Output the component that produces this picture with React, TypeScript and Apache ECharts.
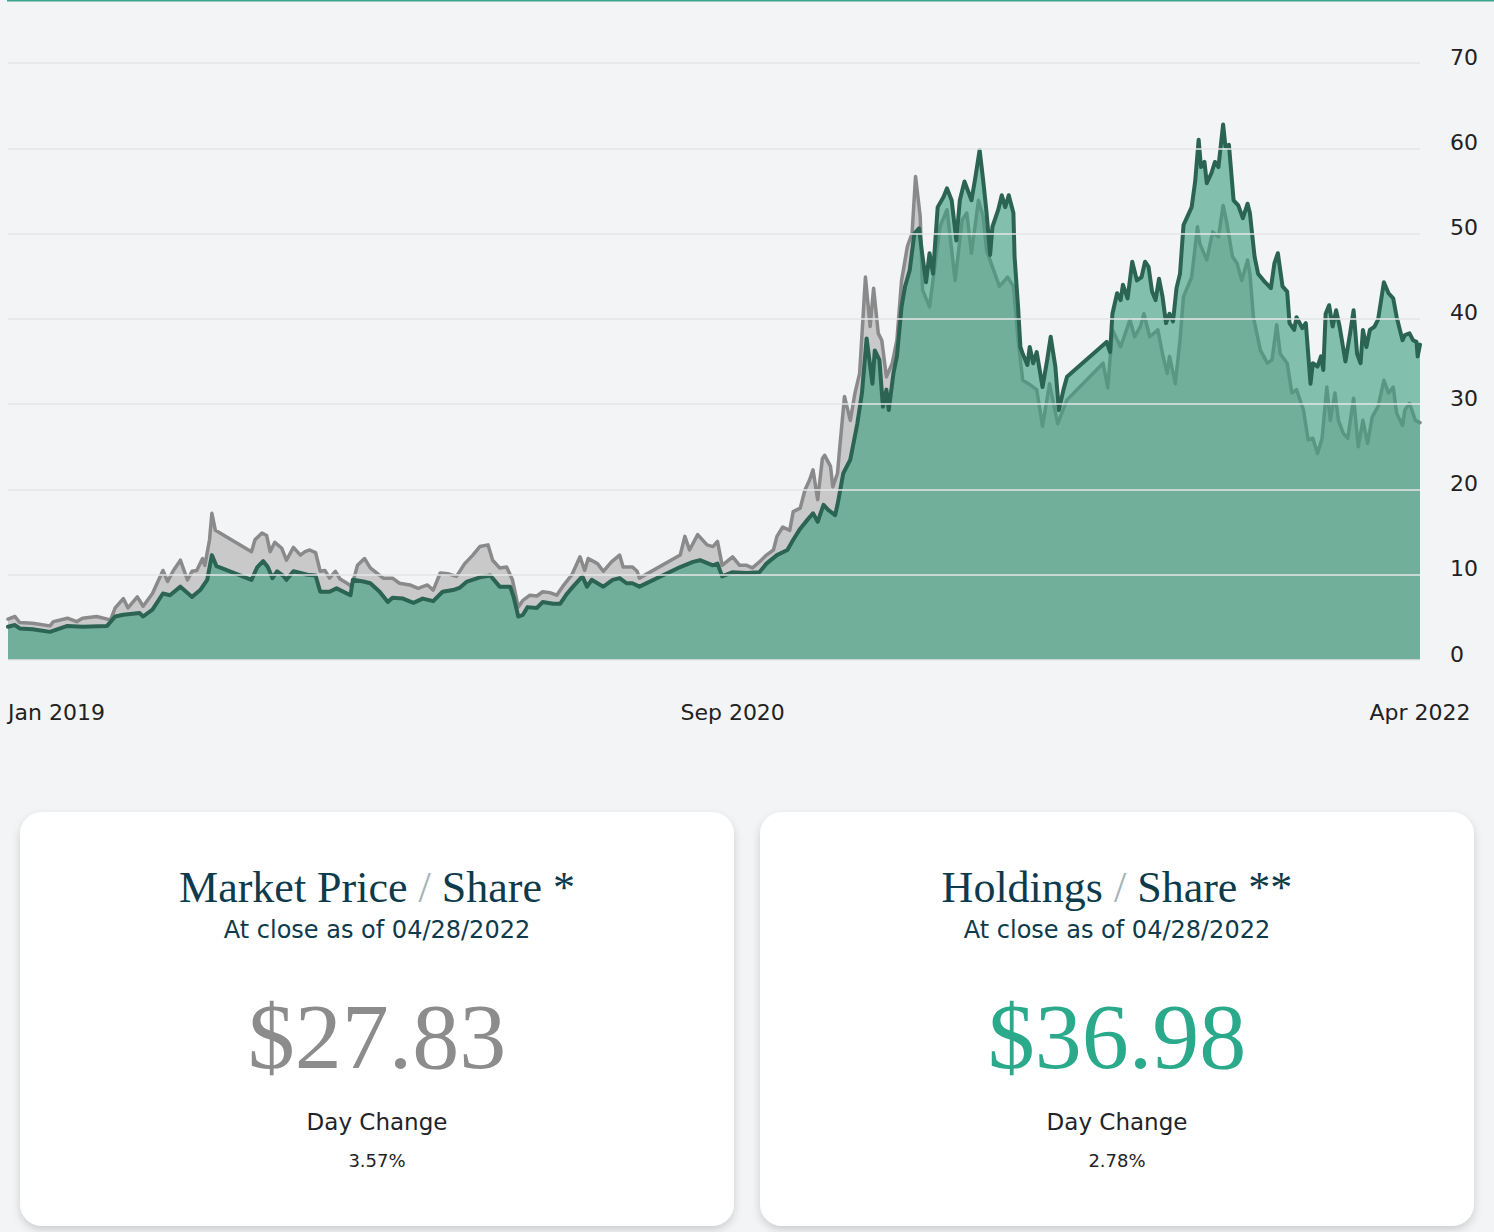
import React, { useEffect, useRef } from 'react';
import * as echarts from 'echarts';

// Days since 2019-01-02 and values (USD per share)
const priceDays = [0, 6, 10, 21, 36, 39, 51, 59, 64, 76, 88, 92, 99, 103, 111, 116, 124, 133, 137, 142, 148, 154, 158, 162, 167, 169, 173, 175, 178, 209, 212, 218, 222, 225, 229, 235, 239, 245, 251, 255, 259, 264, 268, 272, 276, 281, 285, 291, 295, 300, 306, 311, 322, 330, 336, 345, 352, 360, 365, 371, 378, 385, 392, 399, 405, 412, 416, 422, 428, 433, 438, 442, 448, 454, 459, 465, 471, 476, 484, 491, 495, 498, 506, 511, 518, 525, 528, 536, 540, 542, 577, 581, 585, 592, 600, 605, 609, 613, 622, 628, 634, 639, 645, 651, 657, 660, 665, 671, 674, 680, 684, 688, 691, 695, 699, 701, 706, 708, 712, 714, 718, 723, 727, 731, 736, 740, 743, 747, 750, 754, 759, 763, 767, 772, 776, 779, 783, 785, 791, 800, 806, 813, 819, 823, 827, 833, 837, 840, 845, 851, 858, 863, 867, 871, 876, 883, 888, 894, 901, 909, 940, 944, 948, 955, 963, 967, 972, 975, 980, 987, 991, 995, 997, 1002, 1006, 1009, 1016, 1021, 1023, 1029, 1034, 1039, 1043, 1046, 1051, 1055, 1059, 1064, 1066, 1069, 1075, 1081, 1085, 1089, 1092, 1098, 1102, 1106, 1112, 1116, 1120, 1124, 1128, 1132, 1135, 1139, 1142, 1146, 1150, 1155, 1159, 1163, 1167, 1171, 1176, 1181, 1185, 1189, 1192, 1197, 1199, 1203, 1208, 1212];
const priceValues = [4.8, 5.1, 4.4, 4.3, 4.0, 4.5, 4.9, 4.5, 4.9, 5.1, 4.7, 6.1, 7.2, 6.1, 7.4, 6.3, 7.8, 10.5, 9.2, 10.5, 11.7, 9.4, 10.4, 10.5, 11.9, 11.1, 14.1, 17.2, 15.2, 12.7, 14.1, 14.9, 14.6, 12.7, 13.8, 13.1, 11.7, 13.2, 12.3, 12.7, 12.9, 12.6, 10.4, 10.5, 9.6, 10.4, 9.5, 9.0, 8.6, 11.1, 11.9, 10.8, 9.6, 9.6, 9.0, 8.8, 8.4, 8.8, 8.2, 10.2, 10.1, 9.8, 11.3, 12.3, 13.3, 13.5, 11.7, 10.8, 10.9, 9.4, 6.2, 7.0, 7.6, 7.5, 8.0, 7.9, 7.6, 8.6, 10.0, 12.1, 10.5, 11.9, 11.3, 10.4, 11.5, 12.3, 10.9, 10.9, 10.4, 9.6, 12.3, 14.5, 12.9, 14.7, 13.5, 13.3, 13.9, 11.1, 12.1, 11.1, 11.1, 10.8, 11.5, 12.3, 12.9, 14.5, 15.6, 15.2, 17.4, 17.8, 19.9, 21.1, 22.3, 18.8, 23.6, 24.0, 22.7, 20.3, 21.9, 25.0, 30.9, 28.1, 31.3, 33.6, 44.9, 39.1, 43.6, 38.3, 37.5, 33.2, 34.8, 37.5, 44.5, 48.5, 50.0, 56.7, 52.0, 43.4, 41.4, 50.8, 52.8, 44.5, 51.6, 52.4, 47.7, 53.9, 52.0, 48.0, 46.1, 43.8, 44.9, 43.8, 37.5, 32.8, 32.4, 31.7, 27.4, 32.4, 27.7, 30.5, 34.8, 31.9, 38.7, 36.7, 39.9, 37.9, 39.1, 40.6, 37.9, 38.7, 35.9, 33.6, 35.6, 32.4, 37.5, 42.6, 44.9, 50.8, 48.8, 46.9, 50.2, 49.6, 53.3, 51.4, 47.3, 46.5, 44.5, 46.9, 45.3, 40.2, 36.3, 34.8, 35.2, 39.3, 35.9, 34.8, 31.3, 31.7, 29.3, 25.8, 26.0, 24.2, 26.0, 32.0, 28.1, 31.3, 28.1, 26.6, 26.0, 30.7, 25.0, 28.1, 25.4, 28.5, 29.7, 32.8, 31.3, 32.0, 28.9, 27.5, 29.3, 30.1, 28.1, 27.83];

const navDays = [0, 6, 10, 21, 36, 51, 64, 85, 92, 99, 113, 116, 124, 133, 139, 148, 158, 165, 171, 175, 179, 209, 214, 219, 223, 227, 231, 236, 239, 245, 257, 264, 268, 276, 282, 294, 296, 305, 311, 319, 326, 330, 339, 348, 356, 365, 373, 382, 388, 394, 405, 414, 422, 431, 434, 438, 442, 446, 454, 459, 468, 474, 480, 485, 493, 497, 501, 511, 519, 525, 531, 536, 542, 577, 588, 594, 605, 609, 613, 622, 634, 645, 651, 660, 669, 674, 680, 686, 691, 695, 700, 704, 710, 712, 717, 723, 729, 733, 737, 742, 744, 748, 751, 754, 756, 760, 763, 767, 770, 774, 778, 782, 785, 788, 791, 794, 798, 803, 806, 810, 814, 817, 821, 827, 830, 834, 837, 840, 843, 845, 850, 853, 856, 859, 863, 864, 867, 869, 871, 875, 877, 880, 883, 888, 892, 895, 899, 902, 906, 909, 943, 946, 948, 952, 955, 957, 961, 965, 969, 973, 976, 979, 982, 985, 988, 991, 994, 997, 1000, 1003, 1006, 1009, 1013, 1016, 1019, 1022, 1024, 1027, 1029, 1033, 1036, 1039, 1043, 1045, 1048, 1052, 1056, 1060, 1064, 1066, 1070, 1073, 1079, 1084, 1087, 1090, 1094, 1098, 1100, 1104, 1106, 1111, 1114, 1118, 1120, 1124, 1127, 1129, 1131, 1134, 1137, 1140, 1143, 1148, 1152, 1155, 1158, 1161, 1163, 1166, 1169, 1173, 1176, 1181, 1185, 1189, 1192, 1197, 1199, 1203, 1206, 1209, 1210, 1212];
const navValues = [3.9, 4.1, 3.7, 3.6, 3.3, 4.0, 3.9, 4.0, 5.1, 5.3, 5.5, 5.1, 5.9, 7.8, 7.6, 8.6, 7.4, 8.2, 9.4, 12.3, 11.0, 9.4, 10.9, 11.6, 10.9, 9.6, 10.4, 9.9, 9.4, 10.4, 10.0, 9.9, 8.0, 8.0, 8.4, 7.6, 9.4, 9.2, 9.0, 8.0, 6.8, 7.3, 7.2, 6.7, 7.2, 6.9, 8.0, 8.2, 8.5, 9.2, 9.7, 9.9, 8.6, 8.6, 7.4, 5.1, 5.3, 6.2, 6.1, 6.8, 6.6, 6.6, 7.8, 8.6, 9.8, 8.6, 9.4, 8.6, 9.4, 9.6, 9.0, 9.0, 8.6, 10.9, 11.5, 11.7, 11.1, 11.3, 9.8, 10.3, 10.2, 10.3, 11.3, 12.3, 12.9, 14.1, 15.4, 16.4, 17.2, 16.2, 18.2, 17.6, 17.0, 18.2, 21.9, 23.5, 27.7, 31.3, 37.7, 32.4, 36.3, 35.2, 29.7, 31.7, 29.3, 33.6, 35.6, 41.4, 43.8, 45.7, 50.0, 50.6, 47.3, 44.3, 47.7, 45.3, 53.1, 54.3, 55.3, 53.9, 49.2, 53.9, 56.1, 53.9, 56.3, 59.8, 56.3, 52.4, 47.5, 50.8, 52.8, 54.5, 53.1, 54.5, 52.4, 47.3, 41.4, 36.7, 35.9, 34.6, 36.7, 34.8, 36.1, 32.0, 35.2, 37.9, 34.4, 29.3, 31.7, 33.2, 37.3, 36.1, 40.6, 43.0, 42.2, 44.0, 42.4, 46.7, 44.5, 44.9, 46.7, 46.1, 43.2, 42.2, 44.7, 42.6, 39.5, 40.6, 39.7, 43.6, 45.3, 51.0, 52.2, 53.1, 56.1, 61.0, 57.8, 58.4, 55.9, 57.1, 58.4, 57.8, 62.8, 60.2, 60.4, 53.9, 53.3, 51.8, 53.5, 52.4, 47.3, 45.3, 44.3, 43.6, 46.5, 47.7, 43.8, 43.2, 39.5, 38.7, 40.2, 38.9, 39.5, 32.4, 34.8, 34.4, 35.6, 34.0, 40.6, 41.6, 39.1, 41.0, 39.1, 35.0, 38.3, 41.0, 35.9, 34.8, 38.7, 36.7, 38.7, 39.1, 39.9, 44.3, 43.0, 42.4, 40.2, 37.5, 38.1, 38.3, 37.5, 37.3, 35.6, 36.98];

const xTickDays = [0, 622, 1212];
const xTickLabels = ['Jan 2019', 'Sep 2020', 'Apr 2022'];
const yMin = 0;
const yMax = 70;
const yStep = 10;

const cardTitles = ['Market Price', 'Holdings'];
const cardTitleTails = ['Share *', 'Share **'];
const cardSubtitles = ['At close as of 04/28/2022', 'At close as of 04/28/2022'];
const cardValues = ['$27.83', '$36.98'];
const cardChangeLabel = 'Day Change';
const cardChanges = ['3.57%', '2.78%'];

const SANS = 'DejaVu Sans';
const SERIF = 'Liberation Serif';

function buildCards(): any[] {
  const els: any[] = [];
  const lefts = [20, 760];
  const valueColors = ['#8c8c8c', '#2aa98b'];
  lefts.forEach((left, i) => {
    const cx = left + 357;
    els.push({
      type: 'rect',
      shape: { x: left, y: 812, width: 714, height: 414, r: 22 },
      style: { fill: '#ffffff', shadowBlur: 8, shadowOffsetY: 4, shadowColor: 'rgba(0,0,0,0.16)' },
      z: 10,
    });
    els.push({
      type: 'text',
      z: 11,
      style: {
        x: cx,
        y: 887,
        align: 'center',
        verticalAlign: 'middle',
        text: `{t|${cardTitles[i]}\u00a0}{s|/}{t|\u00a0${cardTitleTails[i]}}`,
        rich: {
          t: { fontFamily: SERIF, fontSize: 44, fill: '#0e3b4b', color: '#0e3b4b' },
          s: { fontFamily: SERIF, fontSize: 44, fill: '#a3b3b8', color: '#a3b3b8' },
        },
      },
    });
    els.push({
      type: 'text',
      z: 11,
      style: {
        x: cx, y: 930, align: 'center', verticalAlign: 'middle',
        text: cardSubtitles[i], fontFamily: SANS, fontSize: 24, fill: '#0e3b4b',
      },
    });
    els.push({
      type: 'text',
      z: 11,
      style: {
        x: cx, y: 1036, align: 'center', verticalAlign: 'middle',
        text: cardValues[i], fontFamily: SERIF, fontSize: 94, fill: valueColors[i],
      },
    });
    els.push({
      type: 'text',
      z: 11,
      style: {
        x: cx, y: 1122, align: 'center', verticalAlign: 'middle',
        text: cardChangeLabel, fontFamily: SANS, fontSize: 23, fill: '#1f2328',
      },
    });
    els.push({
      type: 'text',
      z: 11,
      style: {
        x: cx, y: 1160, align: 'center', verticalAlign: 'middle',
        text: cardChanges[i], fontFamily: SANS, fontSize: 18, fill: '#1f2328',
      },
    });
  });
  return els;
}

export default function App() {
  const ref = useRef<HTMLDivElement>(null);
  useEffect(() => {
    document.body.style.margin = '0';
    if (!ref.current) return;
    const chart = echarts.init(ref.current, null, { renderer: 'svg' });
    const priceData = priceDays.map((d, i) => [d, priceValues[i]]);
    const navData = navDays.map((d, i) => [d, navValues[i]]);
    chart.setOption({
      animation: false,
      backgroundColor: '#f3f4f6',
      grid: { left: 8, right: 74, top: 63, bottom: 572, containLabel: false },
      xAxis: {
        type: 'value',
        min: xTickDays[0],
        max: xTickDays[xTickDays.length - 1],
        axisLine: { show: false },
        axisTick: { show: false },
        splitLine: { show: false },
        axisLabel: {
          customValues: xTickDays,
          formatter: (v: number) => {
            const k = xTickDays.indexOf(Math.round(v));
            return k >= 0 ? xTickLabels[k] : '';
          },
          fontFamily: SANS,
          fontSize: 22,
          color: '#222222',
          margin: 41,
          alignMinLabel: 'left',
          showMinLabel: true,
          showMaxLabel: true,
        },
      },
      yAxis: {
        type: 'value',
        position: 'right',
        min: yMin,
        max: yMax,
        interval: yStep,
        z: 3,
        axisLine: { show: false },
        axisTick: { show: false },
        splitLine: { show: true, lineStyle: { color: '#e4e6e9', width: 1.5 } },
        axisLabel: {
          margin: 30,
          fontFamily: SANS,
          fontSize: 22,
          color: '#222222',
          verticalAlign: 'bottom',
          lineHeight: 12,
        },
      },
      series: [
        {
          type: 'line',
          name: 'Market Price / Share',
          data: priceData,
          z: 1,
          symbol: 'none',
          showSymbol: false,
          lineStyle: { color: '#8a8a8a', width: 3.5, join: 'round', cap: 'round' },
          areaStyle: { color: '#c9c9c9', opacity: 1 },
        },
        {
          type: 'line',
          name: 'Holdings / Share',
          data: navData,
          z: 2,
          symbol: 'none',
          showSymbol: false,
          lineStyle: { color: '#2c6453', width: 4, join: 'round', cap: 'round' },
          areaStyle: { color: 'rgba(60,160,128,0.62)', opacity: 1 },
        },
      ],
      graphic: [
        {
          type: 'line',
          shape: { x1: 7, y1: 0.75, x2: 1494, y2: 0.75 },
          style: { stroke: '#3ba68b', lineWidth: 1.5 },
          z: 10,
        },
        ...buildCards(),
      ],
    });
    return () => chart.dispose();
  }, []);
  return <div ref={ref} style={{ width: 1494, height: 1232 }} />;
}
